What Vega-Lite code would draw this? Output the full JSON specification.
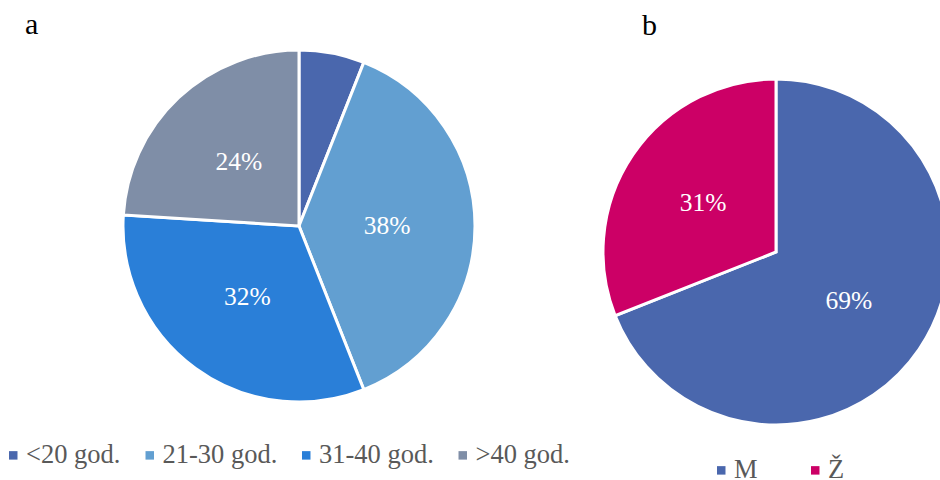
{
  "$schema": "https://vega.github.io/schema/vega-lite/v6.json",
  "padding": {"top": 10, "left": 0, "right": 0, "bottom": 0},
  "spacing": 2,
  "background": "#ffffff",
  "config": {
    "view": {"stroke": null},
    "title": {"font": "Liberation Serif", "fontSize": 30, "fontWeight": "normal", "color": "#000000", "anchor": "start", "offset": 4},
    "legend": {
      "orient": "none", "direction": "horizontal", "title": null,
      "symbolType": "square", "symbolSize": 72, "symbolStrokeWidth": 0,
      "labelFont": "Liberation Serif", "labelFontSize": 26.5, "labelColor": "#595959",
      "labelOffset": -0.5, "padding": 0, "rowPadding": 0
    }
  },
  "resolve": {"scale": {"color": "independent", "theta": "independent"}, "legend": {"color": "independent"}},
  "hconcat": [
    {
      "width": 598, "height": 362,
      "title": {"text": "a", "dx": 25},
      "data": {"values": [
        {"g": "<20 god.", "v": 0.06},
        {"g": "21-30 god.", "v": 0.38},
        {"g": "31-40 god.", "v": 0.32},
        {"g": ">40 god.", "v": 0.24}
      ]},
      "transform": [{"window": [{"op": "row_number", "as": "i"}]}],
      "encoding": {
        "theta": {"field": "v", "type": "quantitative", "stack": true},
        "order": {"field": "i", "type": "quantitative"}
      },
      "layer": [
        {
          "mark": {"type": "arc", "outerRadius": 176, "stroke": "#ffffff", "strokeWidth": 3},
          "encoding": {
            "color": {"field": "g", "type": "nominal",
              "scale": {"domain": ["<20 god.", "21-30 god.", "31-40 god.", ">40 god."], "range": ["#4a67ad", "#629fd1", "#2a7fd8", "#7f8ea7"]},
              "legend": {"legendX": 0, "legendY": 397, "columnPadding": 15.5}}
          }
        },
        {
          "mark": {"type": "text", "radius": 88, "fill": "#ffffff", "font": "Liberation Serif", "fontSize": 25.5},
          "encoding": {
            "text": {"field": "v", "type": "quantitative", "format": ".0%"},
            "opacity": {"condition": {"test": "datum.v < 0.1", "value": 0}, "value": 1}
          }
        }
      ]
    },
    {
      "width": 352, "height": 414,
      "title": {"text": "b", "dx": 42},
      "data": {"values": [
        {"g": "M", "v": 0.69},
        {"g": "Ž", "v": 0.31}
      ]},
      "transform": [{"window": [{"op": "row_number", "as": "i"}]}],
      "encoding": {
        "theta": {"field": "v", "type": "quantitative", "stack": true},
        "order": {"field": "i", "type": "quantitative"}
      },
      "layer": [
        {
          "mark": {"type": "arc", "outerRadius": 173, "stroke": "#ffffff", "strokeWidth": 3, "clip": true},
          "encoding": {
            "color": {"field": "g", "type": "nominal",
              "scale": {"domain": ["M", "Ž"], "range": ["#4a67ad", "#cc0066"]},
              "legend": {"legendX": 108, "legendY": 412, "columnPadding": 44}}
          }
        },
        {
          "mark": {"type": "text", "radius": 88, "fill": "#ffffff", "font": "Liberation Serif", "fontSize": 25.5},
          "encoding": {
            "text": {"field": "v", "type": "quantitative", "format": ".0%"}
          }
        }
      ]
    }
  ]
}
